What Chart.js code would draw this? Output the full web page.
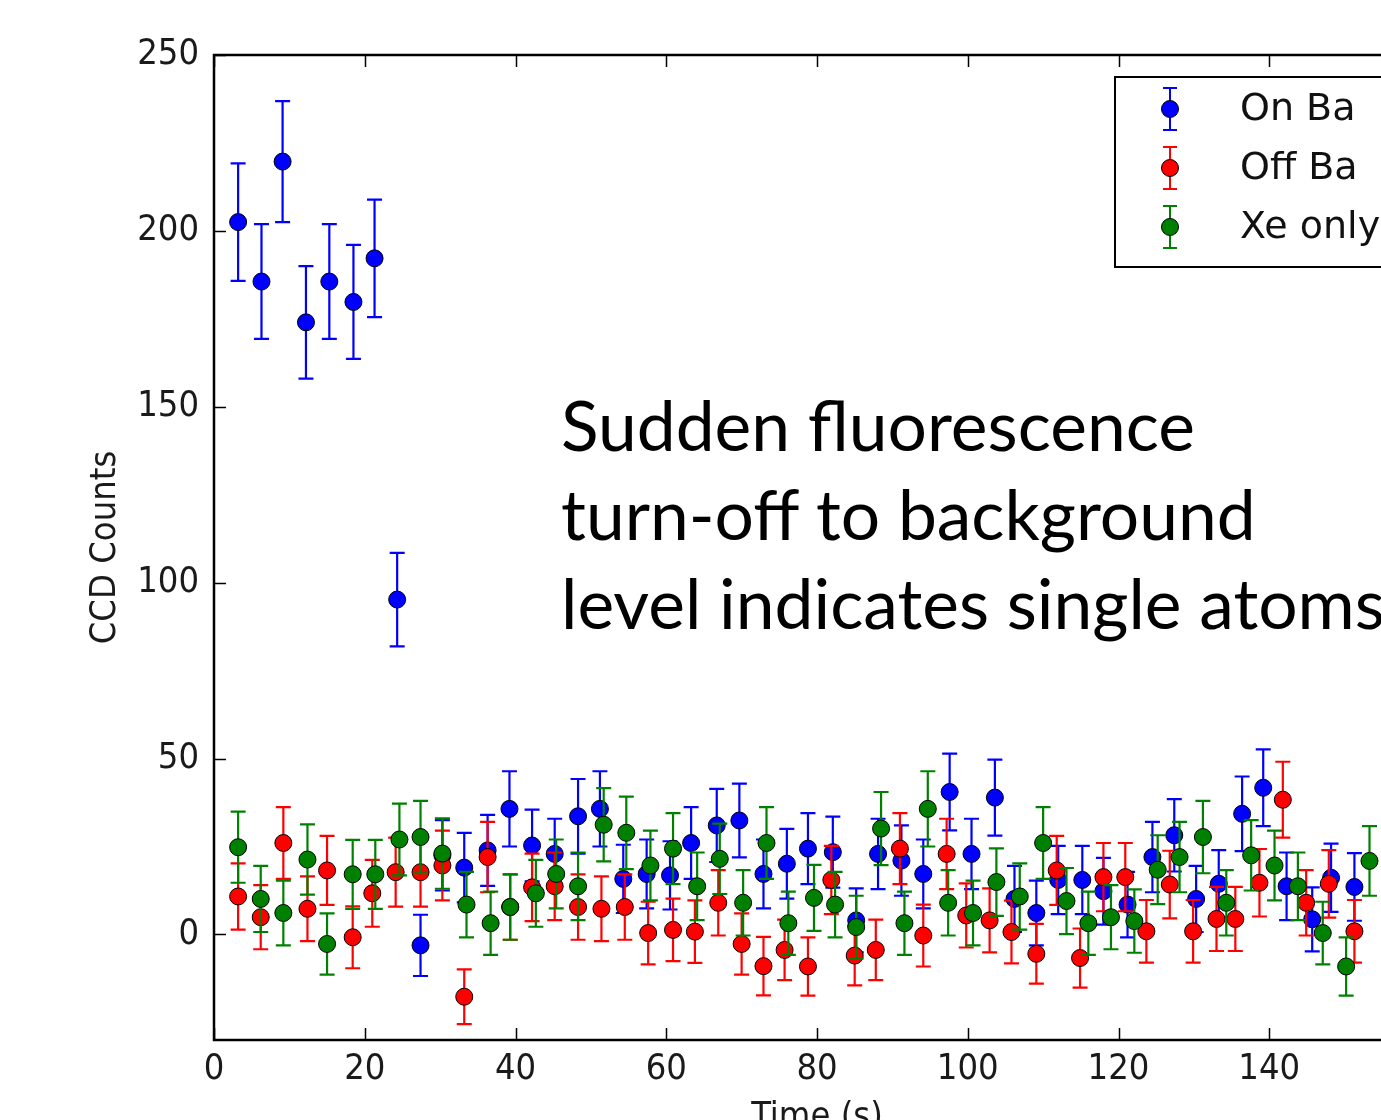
<!DOCTYPE html>
<html>
<head>
<meta charset="utf-8">
<script src="https://cdn.jsdelivr.net/npm/chart.js@4.4.1/dist/chart.umd.min.js"></script>
<style>
    html, body {
        margin: 0;
        padding: 0;
        background: #ffffff;
        overflow: hidden;
        width: 1381px;
        height: 1120px;
    }
    #wrap {
        position: relative;
        width: 1460px;
        height: 1150px;
    }
    #note {
        position: absolute;
        left: 561px;
        top: 380px;
        font-family: Lato, "Open Sans", sans-serif;
        font-size: 69.5px;
        line-height: 89px;
        color: #000000;
        white-space: nowrap;
    }
</style>
</head>
<body>
<div id="wrap">
    <canvas id="ccdChart" width="1460" height="1150"></canvas>
    <div id="note">Sudden fluorescence<br>turn-off to background<br>level indicates single atoms</div>
</div>
<script>
// series names, as in the legend
var seriesNames = ["On Ba", "Off Ba", "Xe only"];
var seriesColors = ["#0000ff", "#ff0000", "#008000"];

// tick labels
var xTickValues = [0, 20, 40, 60, 80, 100, 120, 140, 160];
var yTickValues = [0, 50, 100, 150, 200, 250];

// On Ba
var onBaTime = [3.2, 6.3, 9.1, 12.2, 15.3, 18.5, 21.3, 24.3, 27.4, 30.3,
    33.2, 36.3, 39.2, 42.2, 45.2, 48.3, 51.2, 54.3, 57.4, 60.5,
    63.3, 66.7, 69.7, 72.9, 76.0, 78.8, 82.1, 85.2, 88.1, 91.2,
    94.1, 97.6, 100.5, 103.6, 106.2, 109.1, 112.0, 115.2, 118.0, 121.2,
    124.5, 127.4, 130.3, 133.3, 136.4, 139.2, 142.3, 145.7, 148.2, 151.3];
var onBaCounts = [202.5, 185.6, 219.7, 174.0, 185.6, 179.8, 192.2, 95.2, -3.1, 22.5,
    19.0, 23.9, 35.7, 25.3, 22.9, 33.6, 35.7, 15.8, 17.2, 16.8,
    26.0, 31.0, 32.4, 17.2, 20.1, 24.4, 23.4, 4.0, 22.9, 21.0,
    17.2, 40.5, 22.9, 38.9, 10.1, 6.1, 15.5, 15.5, 12.3, 8.5,
    22.0, 28.2, 10.1, 14.4, 34.3, 41.7, 13.7, 4.3, 16.1, 13.5];
var onBaErr = [16.7, 16.3, 17.2, 16.0, 16.3, 16.2, 16.7, 13.3, 8.7, 10.0,
    9.9, 10.1, 10.7, 10.2, 10.0, 10.6, 10.7, 9.7, 9.8, 9.7,
    10.2, 10.4, 10.5, 9.8, 9.9, 10.1, 10.1, 9.1, 10.0, 10.0,
    9.8, 10.9, 10.0, 10.8, 9.4, 9.2, 9.7, 9.7, 9.5, 9.3,
    10.0, 10.3, 9.4, 9.6, 10.6, 10.9, 9.6, 9.1, 9.7, 9.6];

// Off Ba
var offBaTime = [3.2, 6.2, 9.2, 12.4, 15.0, 18.4, 21.0, 24.1, 27.4, 30.3,
    33.2, 36.3, 39.3, 42.2, 45.2, 48.3, 51.4, 54.5, 57.6, 60.9,
    63.8, 66.9, 70.0, 72.9, 75.7, 78.8, 81.9, 85.0, 87.8, 91.0,
    94.1, 97.2, 99.8, 102.9, 105.8, 109.1, 111.8, 114.9, 118.0, 120.9,
    123.7, 126.8, 129.9, 133.0, 135.5, 138.7, 141.8, 144.9, 147.9, 151.3];
var offBaCounts = [10.8, 4.9, 26.0, 7.3, 18.2, -0.8, 11.7, 17.7, 17.7, 19.6,
    -17.7, 22.0, 7.8, 13.4, 13.7, 7.8, 7.3, 7.8, 0.4, 1.3,
    0.8, 9.0, -2.7, -9.0, -4.4, -9.1, 15.5, -6.0, -4.4, 24.4,
    -0.3, 22.9, 5.4, 4.0, 0.7, -5.5, 18.2, -6.7, 16.3, 16.3,
    0.9, 14.2, 0.9, 4.4, 4.4, 14.7, 38.3, 9.0, 14.4, 0.9];
var offBaErr = [9.4, 9.1, 10.2, 9.2, 9.8, 8.8, 9.5, 9.8, 9.8, 9.9,
    7.8, 10.0, 9.3, 9.6, 9.6, 9.3, 9.2, 9.3, 8.9, 8.9,
    8.9, 9.3, 8.7, 8.3, 8.6, 8.3, 9.7, 8.5, 8.6, 10.1,
    8.8, 10.0, 9.1, 9.1, 8.9, 8.5, 9.8, 8.4, 9.7, 9.7,
    8.9, 9.6, 8.9, 9.1, 9.1, 9.6, 10.8, 9.3, 9.6, 8.9];

// Xe only
var xeTime = [3.2, 6.2, 9.2, 12.4, 15.0, 18.4, 21.4, 24.6, 27.4, 30.3,
    33.5, 36.7, 39.3, 42.7, 45.4, 48.3, 51.7, 54.7, 57.9, 60.9,
    64.1, 67.1, 70.2, 73.3, 76.2, 79.6, 82.4, 85.2, 88.5, 91.6,
    94.7, 97.4, 100.7, 103.8, 106.9, 110.0, 113.1, 116.0, 119.0, 122.1,
    125.2, 128.1, 131.2, 134.3, 137.6, 140.7, 143.8, 147.1, 150.2, 153.3];
var xeCounts = [24.8, 10.1, 6.1, 21.3, -2.7, 17.1, 17.1, 27.0, 27.7, 23.0,
    8.5, 3.2, 7.8, 11.7, 17.2, 13.7, 31.2, 28.9, 19.6, 24.4,
    13.7, 21.5, 9.0, 26.0, 3.2, 10.4, 8.5, 2.1, 30.1, 3.2,
    35.7, 9.0, 6.1, 14.9, 10.8, 26.0, 9.5, 3.2, 4.9, 3.8,
    18.4, 22.0, 27.7, 9.0, 22.5, 19.6, 13.7, 0.4, -9.1, 20.9];
var xeErr = [10.1, 9.4, 9.2, 10.0, 8.7, 9.8, 9.8, 10.2, 10.3, 10.0,
    9.3, 9.0, 9.3, 9.5, 9.8, 9.6, 10.4, 10.3, 9.9, 10.1,
    9.6, 10.0, 9.3, 10.2, 9.0, 9.4, 9.3, 8.9, 10.4, 9.0,
    10.7, 9.3, 9.2, 9.6, 9.4, 10.2, 9.4, 9.0, 9.1, 9.0,
    9.8, 10.0, 10.3, 9.3, 10.0, 9.9, 9.6, 8.9, 8.3, 9.9];

var axisFont = '"DejaVu Sans Condensed", "DejaVu Sans", sans-serif';
var legendFont = '"DejaVu Sans", sans-serif';

function toPoints(xs, ys) {
    var pts = [];
    for (var i = 0; i < xs.length; i++) {
        pts.push({ x: xs[i], y: ys[i] });
    }
    return pts;
}

var errors = [onBaErr, offBaErr, xeErr];

// error bars, drawn just before each dataset's markers
var errorBarPlugin = {
    id: "errorBars",
    beforeDatasetDraw: function(chart, args) {
        var ctx = chart.ctx;
        var yScale = chart.scales.y;
        var ds = chart.data.datasets[args.index];
        var err = errors[args.index];
        var area = chart.chartArea;
        ctx.save();
        ctx.beginPath();
        ctx.rect(area.left, area.top, area.right - area.left, area.bottom - area.top);
        ctx.clip();
        ctx.strokeStyle = ds.backgroundColor;
        ctx.lineWidth = 2.2;
        args.meta.data.forEach(function(pt, i) {
            var v = ds.data[i].y;
            var top = yScale.getPixelForValue(v + err[i]);
            var bot = yScale.getPixelForValue(v - err[i]);
            ctx.beginPath();
            ctx.moveTo(pt.x, top);
            ctx.lineTo(pt.x, bot);
            ctx.moveTo(pt.x - 7.5, top);
            ctx.lineTo(pt.x + 7.5, top);
            ctx.moveTo(pt.x - 7.5, bot);
            ctx.lineTo(pt.x + 7.5, bot);
            ctx.stroke();
        });
        ctx.restore();
    }
};

// matplotlib style frame with inward ticks, and the legend box
var framePlugin = {
    id: "frame",
    afterDraw: function(chart) {
        var ctx = chart.ctx;
        var a = chart.chartArea;
        var xs = chart.scales.x;
        var ys = chart.scales.y;
        ctx.save();
        ctx.strokeStyle = "#000000";
        ctx.lineWidth = 1.5;
        xTickValues.forEach(function(v) {
            var px = Math.round(xs.getPixelForValue(v)) + 0.5;
            ctx.beginPath();
            ctx.moveTo(px, a.bottom);
            ctx.lineTo(px, a.bottom - 12);
            ctx.moveTo(px, a.top);
            ctx.lineTo(px, a.top + 12);
            ctx.stroke();
        });
        yTickValues.forEach(function(v) {
            var py = Math.round(ys.getPixelForValue(v)) + 0.5;
            ctx.beginPath();
            ctx.moveTo(a.left, py);
            ctx.lineTo(a.left + 12, py);
            ctx.moveTo(a.right, py);
            ctx.lineTo(a.right - 12, py);
            ctx.stroke();
        });
        ctx.lineWidth = 2.5;
        ctx.strokeRect(a.left, a.top, a.right - a.left, a.bottom - a.top);

        // legend
        var lx = 1115, ly = 77, lw = 290, lh = 190;
        ctx.fillStyle = "#ffffff";
        ctx.fillRect(lx, ly, lw, lh);
        ctx.lineWidth = 2;
        ctx.strokeRect(lx, ly, lw, lh);
        ctx.font = "38px " + legendFont;
        ctx.textBaseline = "middle";
        ctx.textAlign = "left";
        seriesNames.forEach(function(name, i) {
            var cy = 109 + i * 59;
            var cx = 1170;
            ctx.strokeStyle = seriesColors[i];
            ctx.lineWidth = 2;
            ctx.beginPath();
            ctx.moveTo(cx, cy - 21);
            ctx.lineTo(cx, cy + 21);
            ctx.moveTo(cx - 7, cy - 21);
            ctx.lineTo(cx + 7, cy - 21);
            ctx.moveTo(cx - 7, cy + 21);
            ctx.lineTo(cx + 7, cy + 21);
            ctx.stroke();
            ctx.beginPath();
            ctx.arc(cx, cy, 8.5, 0, Math.PI * 2);
            ctx.fillStyle = seriesColors[i];
            ctx.fill();
            ctx.strokeStyle = "#000000";
            ctx.lineWidth = 1;
            ctx.stroke();
            ctx.fillStyle = "#111111";
            ctx.fillText(name, 1240, cy + 1);
        });
        ctx.restore();
    }
};

function makeDataset(i, xs, ys) {
    return {
        label: seriesNames[i],
        data: toPoints(xs, ys),
        backgroundColor: seriesColors[i],
        borderColor: "#000000",
        borderWidth: 1,
        pointRadius: 8.5,
        pointHoverRadius: 8.5,
        showLine: false,
        order: 3 - i
    };
}

var ctx = document.getElementById("ccdChart").getContext("2d");

var chartInstance = new Chart(ctx, {
    type: "scatter",
    data: {
        datasets: [
            makeDataset(0, onBaTime, onBaCounts),
            makeDataset(1, offBaTime, offBaCounts),
            makeDataset(2, xeTime, xeCounts)
        ]
    },
    plugins: [errorBarPlugin, framePlugin],
    options: {
        responsive: false,
        animation: false,
        devicePixelRatio: 1,
        layout: {
            padding: { left: 0, top: 55, right: 40, bottom: 0 }
        },
        plugins: {
            legend: { display: false },
            tooltip: { enabled: false }
        },
        scales: {
            x: {
                type: "linear",
                min: 0,
                max: 160,
                afterBuildTicks: function(scale) {
                    scale.ticks = xTickValues.map(function(v) { return { value: v }; });
                },
                afterFit: function(scale) {
                    scale.height = 110;
                },
                grid: { display: false, drawTicks: false },
                border: { display: false },
                ticks: {
                    padding: 8,
                    color: "#1a1a1a",
                    maxRotation: 0,
                    autoSkip: false,
                    font: { family: axisFont, size: 36 }
                },
                title: {
                    display: true,
                    text: "Time (s)",
                    color: "#1a1a1a",
                    padding: { top: 0, bottom: 11 },
                    font: { family: axisFont, size: 36 }
                }
            },
            y: {
                type: "linear",
                min: -30,
                max: 250,
                afterBuildTicks: function(scale) {
                    scale.ticks = yTickValues.map(function(v) { return { value: v }; });
                },
                afterFit: function(scale) {
                    scale.width = 214;
                },
                grid: { display: false, drawTicks: false },
                border: { display: false },
                ticks: {
                    padding: 15,
                    color: "#1a1a1a",
                    autoSkip: false,
                    font: { family: axisFont, size: 36 }
                },
                title: {
                    display: true,
                    text: "CCD Counts",
                    color: "#1a1a1a",
                    padding: { top: 84, bottom: 0 },
                    font: { family: axisFont, size: 36 }
                }
            }
        }
    }
});
</script>
</body>
</html>
